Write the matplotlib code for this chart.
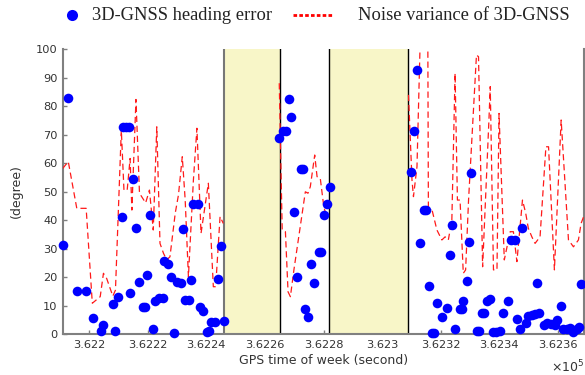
import numpy as np
import matplotlib
import matplotlib.pyplot as plt
from matplotlib.lines import Line2D
from matplotlib.ticker import FuncFormatter

matplotlib.use("Agg")

# GPS time of week (s) and 3D-GNSS heading error (deg)
heading_t = [
    362191.2, 362192.8, 362196.0, 362199.0, 362201.3, 362204.1, 362204.9, 362208.1,
    362209.0, 362210.0, 362211.2, 362211.6, 362212.6, 362213.7, 362214.1, 362215.1,
    362216.0, 362217.2, 362218.3, 362219.0, 362219.8, 362220.8, 362221.9, 362222.6,
    362224.0, 362225.2, 362225.7, 362227.1, 362228.1, 362229.0, 362229.9, 362231.2,
    362232.1, 362232.9, 362234.0, 362234.9, 362235.6, 362237.0, 362237.9, 362239.0,
    362240.2, 362241.0, 362241.7, 362243.0, 362244.1, 362245.1, 362246.0,
    362264.9, 362266.1, 362267.2, 362268.2, 362269.0, 362270.1, 362271.1, 362272.3,
    362272.9, 362273.7, 362274.8, 362275.9, 362276.9, 362278.4, 362279.1, 362280.0,
    362281.1, 362282.1,
    362309.9, 362310.9, 362312.0, 362313.1, 362314.3, 362315.0, 362315.9, 362317.1,
    362317.8, 362318.9, 362320.4, 362322.0, 362323.0, 362324.0, 362325.0, 362326.5,
    362327.1, 362327.7, 362328.9, 362329.6, 362330.2, 362332.3, 362332.9, 362334.2,
    362334.9, 362335.8, 362336.9, 362338.0, 362338.9, 362340.1, 362341.4, 362342.8,
    362343.9, 362345.2, 362346.0, 362346.9, 362347.9, 362349.0, 362349.9, 362351.1,
    362352.2, 362353.0, 362353.7, 362355.1, 362356.2, 362357.6, 362359.0, 362359.8,
    362360.9, 362361.6, 362363.0, 362364.2, 362365.1, 362366.4, 362367.2, 362368.0,
]
heading_err = [
    31.2, 82.8, 15.1, 15.1, 5.7, 1.2, 3.2, 10.4,
    1.1, 12.9, 41.2, 72.5, 72.5, 72.5, 14.3, 54.4,
    37.1, 18.4, 9.4, 9.4, 20.7, 41.8, 1.6, 11.6,
    12.5, 12.5, 25.6, 24.6, 19.9, 0.2, 18.4, 18.0,
    36.8, 11.9, 11.9, 18.9, 45.5, 45.5, 9.6, 8.1,
    0.8, 1.2, 4.1, 4.1, 19.2, 30.9, 4.6,
    68.7, 71.2, 71.2, 82.5, 76.1, 42.7, 19.9, 57.9,
    57.9, 8.8, 6.1, 24.6, 17.8, 28.8, 28.8, 41.6,
    45.6, 51.6,
    56.8, 71.1, 92.6, 31.9, 43.4, 43.4, 16.7, 0.2,
    0.2, 10.8, 6.0, 9.1, 27.6, 38.2, 1.8, 8.7,
    8.7, 11.6, 18.6, 32.2, 56.4, 1.2, 1.2, 7.5,
    7.5, 11.5, 12.2, 0.6, 0.7, 1.2, 7.3, 11.6,
    33.0, 33.0, 5.2, 1.8, 37.1, 3.8, 6.3, 6.6,
    7.0, 17.8, 7.5, 3.0, 4.0, 3.6, 3.2, 4.9,
    9.8, 1.9, 1.6, 2.0, 0.8, 1.7, 2.6, 17.4,
]

# noise variance of 3D-GNSS, one list per segment with data
noise_t1 = [
    362191.0, 362192.9, 362195.8, 362199.0, 362201.1, 362203.8, 362204.9, 362206.0,
    362208.1, 362209.0, 362211.0, 362211.9, 362213.0, 362214.0, 362214.6, 362215.1,
    362216.0, 362217.2, 362219.3, 362220.6, 362221.9, 362223.1, 362224.2, 362225.4,
    362226.5, 362227.6, 362229.4, 362230.5, 362231.8, 362232.8, 362233.9, 362235.6,
    362236.8, 362238.2, 362240.7, 362242.4, 362243.2, 362244.7, 362245.8,
]
noise_v1 = [
    58.1, 60.5, 44.1, 44.1, 10.8, 13.1, 21.3, 19.5,
    13.3, 15.4, 71.6, 50.5, 50.5, 61.6, 43.5, 57.5,
    82.3, 49.4, 46.0, 50.5, 36.5, 72.7, 31.8, 28.3,
    26.0, 27.1, 42.4, 48.8, 62.2, 47.0, 20.1, 54.0,
    72.2, 35.3, 52.9, 16.6, 16.6, 41.2, 38.8,
]
noise_t2 = [
    362264.9, 362265.9, 362267.0, 362267.9, 362268.7, 362269.9, 362273.8, 362274.7,
    362275.5, 362277.0, 362277.8, 362278.9, 362280.1, 362280.7, 362281.8,
]
noise_v2 = [
    88.0, 36.5, 35.9, 14.8, 13.1, 22.5, 49.9, 49.4,
    51.7, 62.8, 55.2, 54.6, 44.7, 42.4, 41.8,
]
noise_t3 = [
    362309.0, 362310.2, 362310.7, 362311.9, 362313.0, 362314.3, 362315.6, 362315.8,
    362316.9, 362318.7, 362320.4, 362321.5, 362322.6, 362323.8, 362324.9, 362325.7,
    362326.6, 362327.7, 362328.5, 362329.5, 362332.2, 362332.9, 362334.3, 362336.5,
    362336.9, 362338.0, 362339.2, 362339.9, 362341.7, 362343.7, 362344.8, 362346.0,
    362347.9, 362349.0, 362349.9, 362351.1, 362352.2, 362353.9, 362355.9, 362356.8,
    362358.8, 362361.1, 362363.6, 362365.3, 362367.0, 362367.9, 362369.0,
]
noise_v3 = [
    83.9, 54.0, 48.2, 58.7, 103.0, 110.0, 103.0, 42.4,
    44.1, 36.5, 33.0, 34.1, 33.0, 40.0, 91.5, 47.0,
    47.0, 21.3, 22.5, 47.0, 97.9, 97.3, 23.6, 76.2,
    86.8, 22.5, 22.5, 77.4, 26.0, 35.9, 35.9, 25.4,
    47.0, 42.4, 37.1, 34.1, 31.8, 34.1, 65.7, 65.7,
    22.5, 75.1, 33.0, 30.6, 33.0, 38.8, 41.8,
]

# periods without 3D-GNSS solution
gap_start = [362246.0, 362282.0]
gap_end = [362265.0, 362309.0]

fig = plt.figure(figsize=(5.85, 3.75), dpi=100)
ax = fig.add_axes([0.1077, 0.1093, 0.8906, 0.76])

for a, b in zip(gap_start, gap_end):
    ax.axvspan(a, b, color='#f8f6c8', lw=0, zorder=0.6)
ax.axvline(gap_start[0], color='#777777', lw=1.5, zorder=0.7)
for xv in [gap_end[0], gap_start[1], gap_end[1]]:
    ax.axvline(xv, color='black', lw=1.0, zorder=0.7)

for t, v in [(noise_t1, noise_v1), (noise_t2, noise_v2), (noise_t3, noise_v3)]:
    ax.plot(t, v, color='#ff1a1a', lw=0.9, ls=(0, (5, 3)), zorder=3)

ax.scatter(heading_t, heading_err, s=48, c='#0000ff', lw=0, zorder=4, clip_on=False)

ax.set_xlim(362191.1, 362368.9)
ax.set_ylim(0, 100)
ax.set_xticks(np.arange(362200, 362361, 20))
ax.set_yticks(np.arange(0, 101, 10))
ax.xaxis.set_major_formatter(FuncFormatter(lambda v, p: f"{v / 1e5:g}"))
ax.set_axisbelow(True)

ax.spines['top'].set_visible(False)
for s in ['left', 'bottom', 'right']:
    ax.spines[s].set_color('#808080')
    ax.spines[s].set_linewidth(1.5)
ax.tick_params(direction='in', length=3, width=1, colors='#808080',
               labelcolor='#333333', labelsize=8.2, pad=4)

ax.set_xlabel('GPS time of week (second)', fontsize=9, color='#333333', labelpad=3)
ax.set_ylabel('(degree)', fontsize=9, color='#333333')
ax.yaxis.set_label_coords(-0.077, 0.5)
fig.text(551 / 585, 1 - 372 / 375, r'$\times10^{5}$', fontsize=9, color='#333333',
         ha='left', va='baseline')

# legend across the top
ly = 1 - 15 / 375
fig.add_artist(Line2D([72 / 585], [ly], marker='o', markersize=8, color='#0000ff',
                      markeredgewidth=0, transform=fig.transFigure))
fig.text(92 / 585, ly, '3D-GNSS heading error', family='Liberation Serif',
         fontsize=13.3, color='#222222', va='center', ha='left')
fig.add_artist(Line2D([293 / 585, 333 / 585], [ly, ly], color='#ff0000', lw=2,
                      ls=(0, (1.3, 0.8)), transform=fig.transFigure))
fig.text(358 / 585, ly, 'Noise variance of 3D-GNSS', family='Liberation Serif',
         fontsize=13.3, color='#222222', va='center', ha='left')

fig.savefig('out.png', dpi=100)
